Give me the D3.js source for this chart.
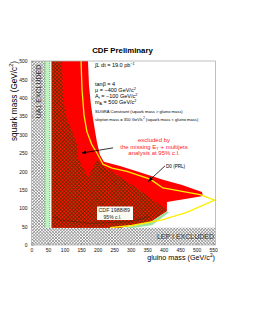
<!DOCTYPE html>
<html><head><meta charset="utf-8">
<script src="https://cdn.jsdelivr.net/npm/d3@7"></script>
<style>
body{margin:0;background:#fff}
svg{display:block}
text{font-family:"Liberation Sans",Arial,Helvetica,sans-serif}
</style>
</head><body>
<svg id="c" width="253" height="327"></svg>
<script>
// ---------- data (gluino mass, squark mass) in GeV/c^2 ----------
const xTicks = [0,50,100,150,200,250,300,350,400,450,500,550];
const yTicks = [0,50,100,150,200,250,300,350,400,450,500];
const xDomain = [0,557];
const yDomain = [0,500];
const lepLimit = 47;          // LEP I squark limit
const ua1Limit = 41;          // UA1 gluino limit
const greenBand = [41,55];
const redRegion = [[61,500],[171,500],[174,435],[180,380],[186,345],[192,312],[198,280],[207,245],[219,226],[268,215],[328,198],[398,177],[456,163],[516,144],[519,133],[465,125],[410,117],[410,92],[359,62],[268,47],[61,47]];
const cdf8889 = [[61,47],[61,500],[92,500],[95,421],[101,367],[110,334],[126,304],[138,272],[141,236],[171,185],[198,231],[222,212],[268,185],[328,149],[410,95],[359,62],[298,52],[268,47]];
const d0Line = [[150,500],[153,421],[159,353],[168,307],[183,272],[198,250],[216,220],[244,209],[289,200],[359,179],[398,155],[510,137],[555,122],[468,88],[395,68],[304,53],[238,47]];
const greenStrip = [[283,47],[359,61],[410,92],[416,88],[365,54],[304,46]];
const oldCurve = [[66,77],[86,68],[175,59],[298,63],[354,77]];
const arrowMain = [[247,264],[153,250]];
const arrowD0 = [[404,215],[354,173]];
const infoLines = [
  ["∫", {t:"L",i:true}, " dt = 19.0 pb", {t:"−1",sup:true}],
  ["tanβ = 4"],
  ["μ = −400 GeV/c", {t:"2",sup:true}],
  ["A", {t:"t",sub:true}, " = −100 GeV/c", {t:"2",sup:true}],
  ["m", {t:"A",sub:true}, " = 500 GeV/c", {t:"2",sup:true}],
  ["SUGRA Constraint  (squark mass > gluino mass)"],
  ["slepton mass = 350 GeV/c", {t:"2",sup:true}, " (squark mass < gluino mass)"]
];
const redText = [
  ["excluded by"],
  ["the missing E", {t:"T",sub:true}, " + multijets"],
  ["analysis at 95% c.l."]
];
const cdfLabel = ["CDF 1988/89", "95% c.l."];

// ---------- drawing ----------
const svg = d3.select("#c");
const defs = svg.append("defs");
const x = d3.scaleLinear().domain(xDomain).range([31.5,215.5]);
const y = d3.scaleLinear().domain(yDomain).range([245,61]);

function hatch(id,bg,fg,size,w){
  const p = defs.append("pattern").attr("id",id).attr("patternUnits","userSpaceOnUse")
    .attr("width",size).attr("height",size).attr("patternTransform","rotate(45)");
  p.append("rect").attr("width",size).attr("height",size).attr("fill",bg);
  p.append("path").attr("d",`M0,${size/2}H${size}M${size/2},0V${size}`)
    .attr("stroke",fg).attr("stroke-width",w);
}
hatch("gh","#ffffff","#7c7c7c",2.2,0.55);
hatch("rh","#ff1400","#3a3000",2.6,0.6);
hatch("gg","#c8f6c8","#44c044",2.0,0.4);

defs.append("clipPath").attr("id","clip").append("rect")
  .attr("x",x(xDomain[0])).attr("y",y(yDomain[1]))
  .attr("width",x(xDomain[1])-x(xDomain[0])).attr("height",y(yDomain[0])-y(yDomain[1]));

defs.append("marker").attr("id","ah").attr("viewBox","0 0 10 10").attr("refX",9).attr("refY",5)
  .attr("markerWidth",6).attr("markerHeight",6).attr("orient","auto")
  .append("path").attr("d","M0,1L10,5L0,9Z").attr("fill","#000");

const line = d3.line().x(d=>x(d[0])).y(d=>y(d[1]));
const plot = svg.append("g").attr("clip-path","url(#clip)");

// UA1 and LEP excluded hatch
plot.append("rect").attr("x",x(0)).attr("y",y(yDomain[1])).attr("width",x(ua1Limit)-x(0))
  .attr("height",y(lepLimit)-y(yDomain[1])).attr("fill","url(#gh)");
plot.append("rect").attr("x",x(0)).attr("y",y(lepLimit)).attr("width",x(xDomain[1])-x(0))
  .attr("height",y(0)-y(lepLimit)).attr("fill","url(#gh)");
// green band
plot.append("rect").attr("x",x(greenBand[0])).attr("y",y(yDomain[1]))
  .attr("width",x(greenBand[1])-x(greenBand[0])).attr("height",y(lepLimit)-y(yDomain[1]))
  .attr("fill","#bdf3bd");
greenBand.forEach(g=>plot.append("line").attr("x1",x(g)).attr("x2",x(g))
  .attr("y1",y(yDomain[1])).attr("y2",y(lepLimit)).attr("stroke","#38b838")
  .attr("stroke-width",0.8).attr("stroke-dasharray","1,1"));

// red region
plot.append("path").attr("d",line(redRegion)+"Z").attr("fill","#ff0000");
// CDF 1988/89 hatched
plot.append("path").attr("d",line(cdf8889)+"Z").attr("fill","url(#rh)");
plot.append("path").attr("d",line(greenStrip)+"Z").attr("fill","url(#gg)");
plot.append("path").attr("d",line(oldCurve)).attr("fill","none").attr("stroke","#2a2000")
  .attr("stroke-width",0.7).attr("stroke-dasharray","1.2,0.8");
// D0 line
plot.append("path").attr("d",line(d0Line)).attr("fill","none").attr("stroke","#ffee00")
  .attr("stroke-width",1.3).attr("stroke-linejoin","round");

// frame
svg.append("rect").attr("x",x(xDomain[0])).attr("y",y(yDomain[1]))
  .attr("width",x(xDomain[1])-x(xDomain[0])).attr("height",y(yDomain[0])-y(yDomain[1]))
  .attr("fill","none").attr("stroke","#b0b0b0").attr("stroke-width",0.8);

// axes
const ya = svg.append("g").attr("transform",`translate(${x(0)},0)`)
  .call(d3.axisLeft(y).tickValues(yTicks).tickSizeInner(-2).tickSizeOuter(0).tickPadding(4));
const xa = svg.append("g").attr("transform",`translate(0,${y(0)})`)
  .call(d3.axisBottom(x).tickValues(xTicks).tickSizeInner(-2).tickSizeOuter(0).tickPadding(3));
[ya,xa].forEach(a=>{
  a.select(".domain").remove();
  a.selectAll("line").attr("stroke","#666").attr("stroke-width",0.5);
  a.selectAll("text").attr("font-size",5).attr("fill","#111")
    .attr("font-family","'Liberation Sans',Arial,sans-serif");
});

// rich text helper
function rich(g, xx, yy, parts, size, color, anchor){
  const t = g.append("text").attr("x",xx).attr("y",yy).attr("font-size",size)
    .attr("fill",color||"#000").attr("text-anchor",anchor||"start");
  let shift = 0;
  parts.forEach(p=>{
    if(typeof p === "string"){
      t.append("tspan").attr("dy",-shift).text(p); shift = 0;
    } else {
      const s = p.sup ? -size*0.38 : p.sub ? size*0.22 : 0;
      const ts = t.append("tspan").attr("dy",s-shift).text(p.t);
      if(p.sup||p.sub) ts.attr("font-size",size*0.68);
      if(p.i) ts.attr("font-style","italic");
      shift = s;
    }
  });
  return t;
}

// title
svg.append("text").attr("x",122.5).attr("y",53).attr("text-anchor","middle")
  .attr("font-size",7.8).attr("font-weight","bold").text("CDF Preliminary");

// axis titles
rich(svg, 215, 260, ["gluino mass (GeV/c", {t:"2",sup:true}, ")"], 7.2, "#000", "end");
rich(svg.append("g").attr("transform","translate(16.5,61) rotate(-90)"), 0, 0,
  ["squark mass (GeV/c", {t:"2",sup:true}, ")"], 8.2, "#000", "end");

// info block
const infoY = [67,86,92,98,104,113,121];
infoLines.forEach((l,i)=>rich(svg, 95, infoY[i], l, i<5?5.5:4.1, "#000", "start"));

// red annotation
const redY = [142,148.5,155];
redText.forEach((l,i)=>rich(svg, 154, redY[i], l, 6, "#ff1a1a", "middle"));

// arrows
svg.append("path").attr("d",line(arrowMain)).attr("stroke","#000").attr("stroke-width",0.8)
  .attr("fill","none").attr("marker-end","url(#ah)");
svg.append("path").attr("d",line(arrowD0)).attr("stroke","#000").attr("stroke-width",0.8)
  .attr("fill","none").attr("marker-end","url(#ah)");
svg.append("text").attr("x",166).attr("y",167.5).attr("font-size",4.6).text("D0 (PRL)");

// CDF 1988/89 label
svg.append("rect").attr("x",97).attr("y",206.5).attr("width",36).attr("height",13.5)
  .attr("fill","#fbfbf4");
svg.append("text").attr("x",98.5).attr("y",212).attr("font-size",5.3).attr("fill","#222").text(cdfLabel[0]);
svg.append("text").attr("x",112.5).attr("y",218.5).attr("font-size",5).attr("text-anchor","middle")
  .attr("fill","#222").text(cdfLabel[1]);

// excluded labels
svg.append("text").attr("transform",`translate(40.5,91.5) rotate(-90)`).attr("text-anchor","middle")
  .attr("font-size",7).attr("fill","#333").text("UA1 EXCLUDED");
svg.append("text").attr("x",214).attr("y",238.5).attr("text-anchor","end")
  .attr("font-size",7).attr("fill","#333").text("LEP I EXCLUDED");
</script>
</body></html>
